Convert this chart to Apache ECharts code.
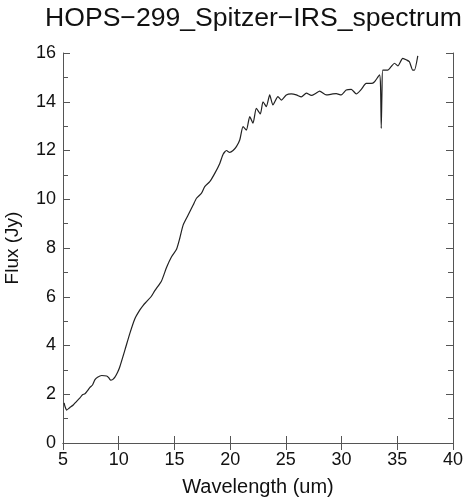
<!DOCTYPE html>
<html>
<head>
    <meta charset="utf-8">
    <title>HOPS-299 spectrum</title>
    <script src="https://cdn.jsdelivr.net/npm/echarts@6/dist/echarts.min.js"></script>
</head>
<body>
<style>
    html, body, #main {
        width: 100%;
        height: 100%;
        padding: 0;
        margin: 0;
        background: #fff;
    }
</style>

<div id="main"></div>

<script type="text/javascript">
// wavelength (um) and flux (Jy)
var wavelength = [5.1, 5.18, 5.33, 5.6, 5.92, 6.2, 6.52, 6.75, 6.97, 7.2, 7.42, 7.65, 7.87, 8.1, 8.47, 8.92, 9.1, 9.27, 9.45, 9.66, 9.9,
    10.1, 10.56, 11.0, 11.45, 11.9, 12.2, 12.5, 12.9, 13.24, 13.84, 14.29, 14.74, 15.19, 15.48, 15.78, 16.23, 16.68, 16.98,
    17.43, 17.72, 18.17, 18.62, 19.07, 19.37, 19.67, 19.96, 20.26, 20.56, 20.86, 21.16, 21.46, 21.76, 22.05, 22.35, 22.71,
    22.95, 23.25, 23.55, 23.84, 24.29, 24.59, 25.04, 25.49, 25.94, 26.39, 26.84, 27.29, 27.7, 28.03, 28.63, 29.22, 29.52,
    29.97, 30.42, 30.87, 31.32, 31.77, 32.21, 32.66, 32.96, 33.41, 33.5, 33.56, 33.63, 33.7, 34.15, 34.45, 34.75, 35.05,
    35.49, 35.85, 36.09, 36.39, 36.54, 36.84];
var flux = [1.65, 1.5, 1.35, 1.45, 1.56, 1.7, 1.85, 1.98, 2.02, 2.15, 2.28, 2.38, 2.6, 2.7, 2.77, 2.75, 2.68, 2.58, 2.6, 2.7, 2.9,
    3.13, 3.82, 4.5, 5.1, 5.46, 5.65, 5.8, 6.0, 6.25, 6.65, 7.2, 7.64, 7.95, 8.4, 8.94, 9.35, 9.76, 10.04,
    10.25, 10.52, 10.72, 11.06, 11.47, 11.85, 12.0, 11.92, 12.0, 12.16, 12.43, 12.98, 12.84, 13.39, 13.12, 13.73, 13.5,
    14.0, 13.8, 14.28, 13.87, 14.21, 14.07, 14.28, 14.32, 14.28, 14.2, 14.35, 14.26, 14.35, 14.44, 14.28, 14.32, 14.33,
    14.28, 14.48, 14.51, 14.32, 14.51, 14.75, 14.75, 14.82, 15.1, 14.6, 12.91, 14.5, 15.3, 15.3, 15.44, 15.58, 15.47,
    15.78, 15.71, 15.64, 15.3, 15.3, 15.88];

var xMin = 5, xMax = 40, xStep = 5;
var yMin = 0, yMax = 16, yStep = 2;

var chart = echarts.init(document.getElementById('main'));

var pts = [];
for (var i = 0; i < wavelength.length; i++) {
    pts.push([wavelength[i], flux[i]]);
}

var font = 'Liberation Sans';
var axisColor = '#555';

function xAx(pos, show) {
    return {
        type: 'value', position: pos, min: xMin, max: xMax, interval: xStep,
        name: show ? 'Wavelength (um)' : '',
        nameLocation: 'middle', nameGap: 34,
        nameTextStyle: {fontFamily: font, fontSize: 20, color: '#111'},
        axisLine: {show: true, lineStyle: {color: axisColor, width: 1}},
        axisTick: {show: true, inside: true, length: 7, lineStyle: {color: axisColor}},
        axisLabel: {show: show, fontFamily: font, fontSize: 18, color: '#111', margin: 8},
        splitLine: {show: false}
    };
}

function yAx(pos, show) {
    return {
        type: 'value', position: pos, min: yMin, max: yMax, interval: yStep,
        name: show ? 'Flux (Jy)' : '',
        nameLocation: 'middle', nameGap: 41, nameRotate: 90,
        nameTextStyle: {fontFamily: font, fontSize: 19, color: '#111'},
        axisLine: {show: true, lineStyle: {color: axisColor, width: 1}},
        axisTick: {show: true, inside: true, length: 7, lineStyle: {color: axisColor}},
        minorTick: {show: true, splitNumber: 2, length: 5, lineStyle: {color: axisColor}},
        axisLabel: {show: show, fontFamily: font, fontSize: 18, color: '#111', margin: 7},
        splitLine: {show: false}
    };
}

chart.setOption({
    animation: false,
    backgroundColor: '#fff',
    title: {
        text: 'HOPS\u2212299_Spitzer\u2212IRS_spectrum',
        left: 40, top: 0,
        textStyle: {fontFamily: font, fontSize: 26.6, fontWeight: 'normal', color: '#111'}
    },
    grid: {left: 63, right: 20, top: 53, bottom: 57, outerBoundsMode: 'none'},
    xAxis: [xAx('bottom', true), xAx('top', false)],
    yAxis: [yAx('left', true), yAx('right', false)],
    series: [{
        type: 'line',
        data: pts,
        showSymbol: false,
        smooth: 0.2,
        lineStyle: {color: '#222', width: 1.2}
    }]
});
</script>
</body>
</html>
